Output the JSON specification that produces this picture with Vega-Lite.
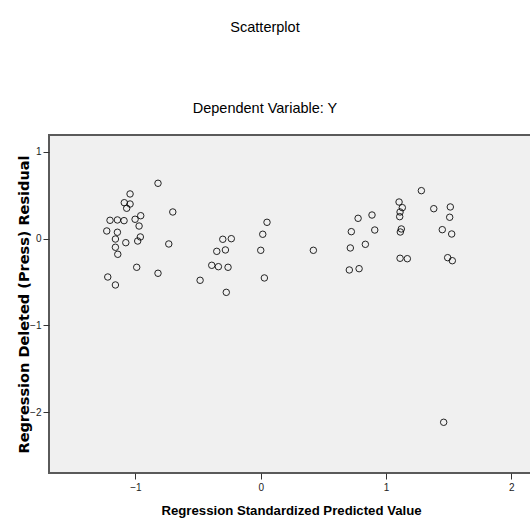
{
  "$schema": "https://vega.github.io/schema/vega-lite/v6.json",
  "autosize": "none",
  "width": 484,
  "height": 338,
  "padding": {"left": 49, "top": 135, "right": 0, "bottom": 51},
  "background": "white",
  "title": {
    "text": "Scatterplot",
    "subtitle": "Dependent Variable: Y",
    "font": "Liberation Sans",
    "fontSize": 14.5,
    "fontWeight": "normal",
    "color": "#000000",
    "subtitleFont": "Liberation Sans",
    "subtitleFontSize": 14.5,
    "subtitleColor": "#000000",
    "subtitlePadding": 66,
    "anchor": "middle",
    "offset": 19,
    "dx": -26
  },
  "config": {
    "view": {"fill": "#f0f0f0", "stroke": "#5a5a5a", "strokeWidth": 2},
    "axis": {"grid": false, "domain": false}
  },
  "data": {
    "values": [
      {"pred": -1.229, "res": 0.089},
      {"pred": -1.203, "res": 0.212},
      {"pred": -1.144, "res": 0.216},
      {"pred": -1.091, "res": 0.208},
      {"pred": -1.089, "res": 0.415},
      {"pred": -1.070, "res": 0.351},
      {"pred": -1.043, "res": 0.516},
      {"pred": -1.043, "res": 0.400},
      {"pred": -1.003, "res": 0.224},
      {"pred": -0.958, "res": 0.265},
      {"pred": -0.971, "res": 0.146},
      {"pred": -1.144, "res": 0.074},
      {"pred": -1.160, "res": -0.004},
      {"pred": -1.160, "res": -0.099},
      {"pred": -1.141, "res": -0.180},
      {"pred": -1.077, "res": -0.046},
      {"pred": -0.982, "res": -0.027},
      {"pred": -0.961, "res": 0.020},
      {"pred": -0.990, "res": -0.330},
      {"pred": -1.221, "res": -0.442},
      {"pred": -1.160, "res": -0.534},
      {"pred": -0.820, "res": 0.639},
      {"pred": -0.702, "res": 0.308},
      {"pred": -0.734, "res": -0.061},
      {"pred": -0.820, "res": -0.399},
      {"pred": -0.484, "res": -0.480},
      {"pred": -0.391, "res": -0.307},
      {"pred": -0.338, "res": -0.323},
      {"pred": -0.261, "res": -0.330},
      {"pred": -0.351, "res": -0.146},
      {"pred": -0.282, "res": -0.130},
      {"pred": -0.303, "res": -0.007},
      {"pred": -0.235, "res": 0.000},
      {"pred": -0.275, "res": -0.619},
      {"pred": 0.050, "res": 0.189},
      {"pred": 0.016, "res": 0.051},
      {"pred": 0.000, "res": -0.134},
      {"pred": 0.029, "res": -0.453},
      {"pred": 0.420, "res": -0.134},
      {"pred": 0.777, "res": 0.235},
      {"pred": 0.888, "res": 0.273},
      {"pred": 0.723, "res": 0.081},
      {"pred": 0.910, "res": 0.100},
      {"pred": 0.715, "res": -0.107},
      {"pred": 0.835, "res": -0.065},
      {"pred": 0.707, "res": -0.361},
      {"pred": 0.785, "res": -0.346},
      {"pred": 1.104, "res": 0.423},
      {"pred": 1.130, "res": 0.358},
      {"pred": 1.112, "res": 0.308},
      {"pred": 1.109, "res": 0.254},
      {"pred": 1.122, "res": 0.112},
      {"pred": 1.114, "res": 0.077},
      {"pred": 1.112, "res": -0.226},
      {"pred": 1.170, "res": -0.231},
      {"pred": 1.282, "res": 0.554},
      {"pred": 1.381, "res": 0.346},
      {"pred": 1.513, "res": 0.366},
      {"pred": 1.508, "res": 0.247},
      {"pred": 1.449, "res": 0.104},
      {"pred": 1.524, "res": 0.054},
      {"pred": 1.492, "res": -0.219},
      {"pred": 1.529, "res": -0.254},
      {"pred": 1.460, "res": -2.118}
    ]
  },
  "mark": {"type": "point", "shape": "circle", "filled": false, "stroke": "#000000", "strokeWidth": 1, "size": 42, "opacity": 0.85},
  "encoding": {
    "x": {
      "field": "pred",
      "type": "quantitative",
      "scale": {"domain": [-1.69, 2.173], "nice": false, "zero": false},
      "axis": {
        "title": "Regression Standardized Predicted Value",
        "values": [-1, 0, 1, 2],
        "format": "d",
        "tickSize": 6,
        "tickColor": "#333333",
        "labelFont": "Liberation Sans",
        "labelFontSize": 10,
        "labelColor": "#222222",
        "labelPadding": 3,
        "titleFont": "Liberation Sans",
        "titleFontSize": 13.2,
        "titleFontWeight": "bold",
        "titleColor": "#000000",
        "titlePadding": 12
      }
    },
    "y": {
      "field": "res",
      "type": "quantitative",
      "scale": {"domain": [-2.703, 1.196], "nice": false, "zero": false},
      "axis": {
        "title": "Regression Deleted (Press) Residual",
        "values": [-2, -1, 0, 1],
        "format": "d",
        "tickSize": 6,
        "tickColor": "#333333",
        "labelFont": "Liberation Sans",
        "labelFontSize": 10,
        "labelColor": "#222222",
        "labelPadding": 2,
        "titleFont": "DejaVu Sans",
        "titleFontSize": 14.5,
        "titleFontWeight": "bold",
        "titleColor": "#000000",
        "titleX": -25,
        "titleY": 169,
        "titleBaseline": "middle",
        "titleAlign": "center",
        "titleAngle": -90
      }
    }
  }
}
